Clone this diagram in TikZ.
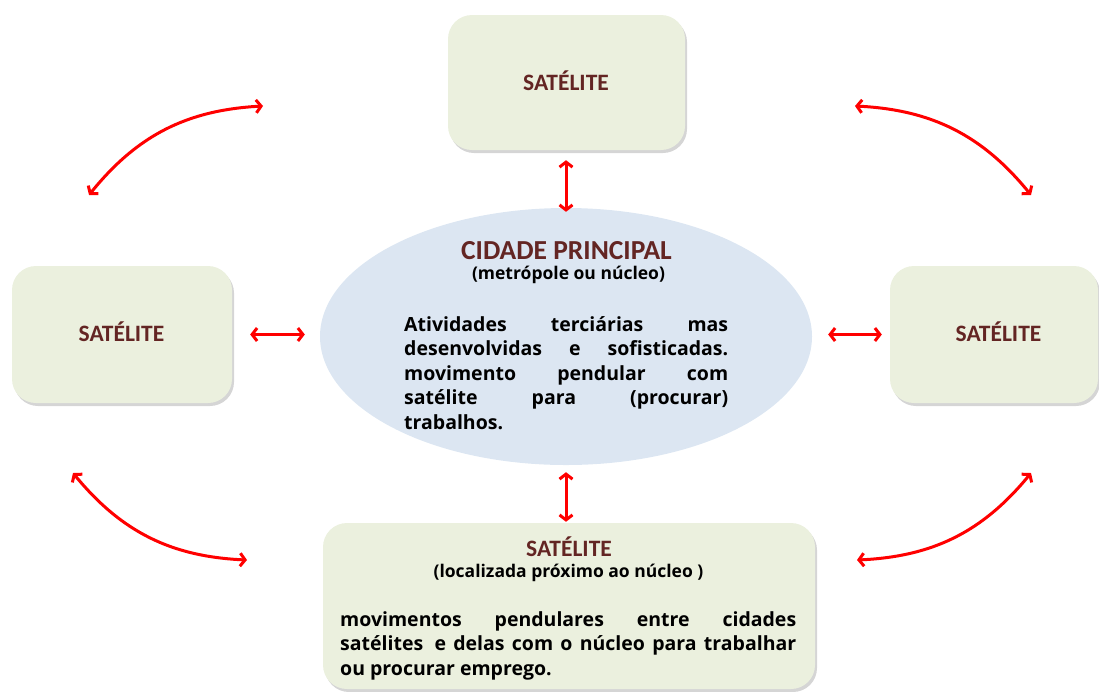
\documentclass[tikz,border=0pt]{standalone}
\usepackage{fontspec}
\setmainfont{Open Sans}
\newfontfamily\titlefont{Carlito}
\usetikzlibrary{arrows.meta,shadows,shapes.geometric}
\definecolor{boxfill}{HTML}{EBF0DE}
\definecolor{ellfill}{HTML}{DCE6F2}
\definecolor{titlered}{HTML}{632523}
\definecolor{arrowred}{HTML}{FF0000}
\begin{document}
\begin{tikzpicture}[x=1pt,y=-1pt,
  satbox/.style={fill=boxfill, draw=none, rounded corners=24pt, inner sep=0pt,
    drop shadow={shadow xshift=2pt, shadow yshift=-3pt, opacity=0.3, fill=black!55}},
  cityell/.style={ellipse, fill=ellfill, draw=none, inner sep=0pt},
  sattitle/.style={font=\titlefont\bfseries\fontsize{23.5}{27}\selectfont, text=titlered, inner sep=0pt, anchor=base},
  citytitle/.style={font=\titlefont\bfseries\fontsize{27.5}{30}\selectfont, text=titlered, inner sep=0pt, anchor=base, text depth=0pt},
  subtxt/.style={font=\bfseries\fontsize{17.5}{21}\selectfont, inner sep=0pt, anchor=base},
  bodytxt/.style={font=\bfseries\fontsize{19.5}{24.5}\selectfont, inner sep=0pt, anchor=base west},
  rarrow/.style={draw=arrowred, line width=3pt,
    {Straight Barb[length=5pt,width=13pt]}-{Straight Barb[length=5pt,width=13pt]}}
]
\useasboundingbox (0,0) rectangle (1099,691);

% boxes
\node[satbox, minimum width=237pt, minimum height=135pt] (top) at (566.5,82.5) {};
\node[satbox, minimum width=220pt, minimum height=137pt] (left) at (122,334.5) {};
\node[satbox, minimum width=208pt, minimum height=137pt] (right) at (994,334.5) {};
\node[satbox, minimum width=492pt, minimum height=166pt] (bottom) at (569,606) {};
\node[cityell, minimum width=492pt, minimum height=257pt] (city) at (566,336.5) {};

% texts
\node[sattitle] (toptitle) at (566,90) {SATÉLITE};
\node[sattitle] (lefttitle) at (121.5,341.5) {SATÉLITE};
\node[sattitle] (righttitle) at (998.5,341.5) {SATÉLITE};
\node[sattitle] (bottomtitle) at (569,556.5) {SATÉLITE};
\node[subtxt] (bottomsub) at (568.5,577) {(localizada próximo ao núcleo )};

\node[citytitle] (citytitle) at (566.5,259) {CIDADE PRINCIPAL};
\node[subtxt] (citysub) at (568.5,279) {(metrópole ou núcleo)};

\node[bodytxt] (citybody) at (404,331) {\parbox[t]{324pt}{%
  \hbox to 324pt{Atividades\hfill terciárias\hfill mas}
  \hbox to 324pt{desenvolvidas\hfill e\hfill sofisticadas.}
  \hbox to 324pt{movimento\hfill pendular\hfill com}
  \hbox to 324pt{satélite\hfill para\hfill (procurar)}
  \hbox to 324pt{trabalhos.\hfill}}};

\node[bodytxt] (bottombody) at (340,626) {\parbox[t]{456pt}{%
  \hbox to 456pt{movimentos\hfill pendulares\hfill entre\hfill cidades}
  \hbox to 456pt{satélites\hskip 4pt\hfill e\hfill delas\hfill com\hfill o\hfill núcleo\hfill para\hfill trabalhar}
  \hbox to 456pt{ou procurar emprego.\hfill}}};

% straight arrows
\draw[rarrow, shorten <=10pt, shorten >=-4pt] (top.south -| city.north) -- (city.north);
\draw[rarrow, shorten <=7pt, shorten >=1pt] (city.south) -- (city.south |- bottom.north);
\draw[rarrow, shorten <=18pt, shorten >=15pt] (left.east) -- (left.east -| city.west);
\draw[rarrow, shorten <=16pt, shorten >=8pt] (city.east |- right.west) -- (right.west);

% curved arrows
\coordinate (tl1) at (263,106);
\coordinate (tl2) at (89,195);
\coordinate (tr1) at (855,106);
\coordinate (tr2) at (1031,195);
\coordinate (bl1) at (73,473);
\coordinate (bl2) at (247,560);
\coordinate (br1) at (1031,473);
\coordinate (br2) at (857,560);
\draw[rarrow] (tl1) to[bend right=24] (tl2);
\draw[rarrow] (tr1) to[bend left=24] (tr2);
\draw[rarrow] (bl1) to[bend right=24] (bl2);
\draw[rarrow] (br1) to[bend left=24] (br2);
\end{tikzpicture}
\end{document}
